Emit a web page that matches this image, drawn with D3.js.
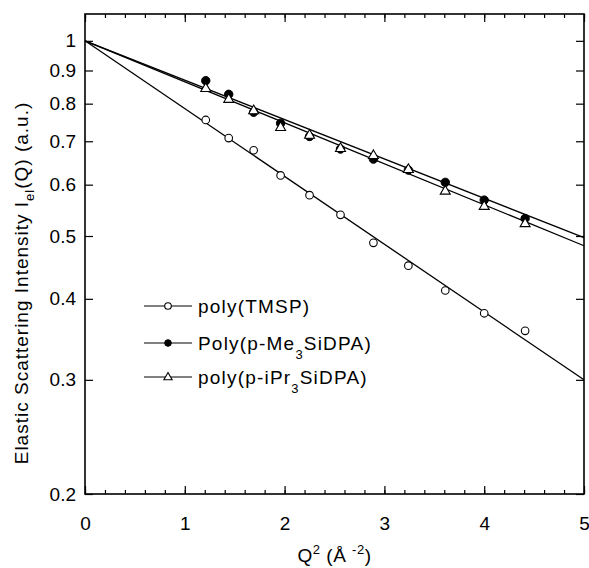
<!DOCTYPE html>
<html>
<head>
<meta charset="utf-8">
<script src="https://cdn.jsdelivr.net/npm/d3@7"></script>
<style>
  html, body { margin: 0; padding: 0; background: #fff; }
  text { font-family: "Liberation Sans", Arial, Helvetica, sans-serif; fill: #000; }
</style>
</head>
<body>
<svg id="chart" width="589" height="568"></svg>
<script>
// ---- data ----
const q2 = [1.21, 1.44, 1.69, 1.96, 2.25, 2.56, 2.89, 3.24, 3.61, 4.00, 4.41];
const tmsp = [0.755, 0.708, 0.678, 0.620, 0.578, 0.539, 0.488, 0.450, 0.412, 0.380, 0.357];
const me3  = [0.868, 0.827, 0.776, 0.746, 0.712, 0.681, 0.657, 0.632, 0.605, 0.568, 0.532];
const ipr3 = [0.845, 0.813, 0.781, 0.736, 0.716, 0.683, 0.666, 0.634, 0.587, 0.556, 0.523];
const fitX = [0, 5];
const tmspFit = [1, 0.300];
const me3Fit  = [1, 0.497];
const ipr3Fit = [1, 0.483];
const xTicks = [0, 1, 2, 3, 4, 5];
const xMinorTicks = d3.range(0, 5.001, 0.2);
const yTicks = [0.2, 0.3, 0.4, 0.5, 0.6, 0.7, 0.8, 0.9, 1];
const yTickLabels = ["0.2", "0.3", "0.4", "0.5", "0.6", "0.7", "0.8", "0.9", "1"];

// ---- layout ----
const svg = d3.select("#chart");
const L = 85, R = 584, T = 14, B = 494;
const x = d3.scaleLinear().domain([0, 5]).range([L, R]);
const y = d3.scaleLog().domain([0.2, 1.1]).range([B, T]);

const fontSize = 19;
const majorLen = 8, minorLen = 4;

// axes (ticks inward)
const g = svg.append("g");
// bottom
g.append("g").attr("transform", `translate(0,${B})`)
  .call(d3.axisBottom(x).tickValues(xMinorTicks).tickSize(-minorLen).tickFormat(""))
  .call(s => s.select(".domain").remove());
g.append("g").attr("transform", `translate(0,${B})`)
  .call(d3.axisBottom(x).tickValues(xTicks).tickSize(-majorLen).tickPadding(23).tickFormat(d3.format("d")))
  .call(s => s.select(".domain").remove())
  .call(s => s.selectAll("text").attr("font-size", fontSize).attr("font-family", "Liberation Sans, Arial, sans-serif"));
// top
g.append("g").attr("transform", `translate(0,${T})`)
  .call(d3.axisTop(x).tickValues(xMinorTicks).tickSize(-minorLen).tickFormat(""))
  .call(s => s.select(".domain").remove());
g.append("g").attr("transform", `translate(0,${T})`)
  .call(d3.axisTop(x).tickValues(xTicks).tickSize(-majorLen).tickFormat(""))
  .call(s => s.select(".domain").remove());
// left
g.append("g").attr("transform", `translate(${L},0)`)
  .call(d3.axisLeft(y).tickValues(yTicks).tickSize(-majorLen).tickPadding(9)
    .tickFormat((d, i) => yTickLabels[i]))
  .call(s => s.select(".domain").remove())
  .call(s => s.selectAll("text").attr("font-size", fontSize).attr("font-family", "Liberation Sans, Arial, sans-serif"));
// right
g.append("g").attr("transform", `translate(${R},0)`)
  .call(d3.axisRight(y).tickValues(yTicks).tickSize(-majorLen).tickFormat(""))
  .call(s => s.select(".domain").remove());
g.selectAll(".tick line").attr("stroke", "#000").attr("stroke-width", 1.2);

// frame
svg.append("rect").attr("x", L).attr("y", T).attr("width", R - L).attr("height", B - T)
  .attr("fill", "none").attr("stroke", "#000").attr("stroke-width", 1.6);

// fit lines
const line = d3.line().x(d => x(d[0])).y(d => y(d[1]));
[tmspFit, me3Fit, ipr3Fit].forEach(f => {
  svg.append("path").datum(fitX.map((v, i) => [v, f[i]]))
    .attr("d", line).attr("fill", "none").attr("stroke", "#000").attr("stroke-width", 1.3);
});

// markers
function drawMarker(sel, type, cx, cy, size) {
  if (type === "circle-open") {
    sel.append("circle").attr("cx", cx).attr("cy", cy).attr("r", size)
      .attr("fill", "#fff").attr("stroke", "#000").attr("stroke-width", 1.1);
  } else if (type === "circle-filled") {
    sel.append("circle").attr("cx", cx).attr("cy", cy).attr("r", size)
      .attr("fill", "#000").attr("stroke", "#000").attr("stroke-width", 1);
  } else {
    const s = size * 2.5;
    const h = s * Math.sqrt(3) / 2;
    sel.append("path")
      .attr("d", `M${cx},${cy - h * 0.62}L${cx + s / 2},${cy + h * 0.38}L${cx - s / 2},${cy + h * 0.38}Z`)
      .attr("fill", "#fff").attr("stroke", "#000").attr("stroke-width", 1.1);
  }
}
const pts = svg.append("g");
q2.forEach((q, i) => drawMarker(pts, "circle-filled", x(q), y(me3[i]), 4.2));
q2.forEach((q, i) => drawMarker(pts, "triangle", x(q), y(ipr3[i]), 4));
q2.forEach((q, i) => drawMarker(pts, "circle-open", x(q), y(tmsp[i]), 3.8));

// legend
const legend = [
  { type: "circle-open", parts: [["poly(TMSP)", false]] },
  { type: "circle-filled", parts: [["Poly(p-Me", false], ["3", true], ["SiDPA)", false]] },
  { type: "triangle", parts: [["poly(p-iPr", false], ["3", true], ["SiDPA)", false]] }
];
const legY = [306, 343, 377];
const lg = svg.append("g");
legend.forEach((e, i) => {
  const yy = legY[i];
  lg.append("line").attr("x1", 144).attr("x2", 192).attr("y1", yy).attr("y2", yy)
    .attr("stroke", "#000").attr("stroke-width", 1);
  drawMarker(lg, e.type, 168, yy, 3.3);
  const t = lg.append("text").attr("x", 198).attr("y", yy + 7)
    .attr("font-size", fontSize).attr("letter-spacing", 1.2);
  e.parts.forEach(p => {
    if (p[1]) {
      t.append("tspan").attr("font-size", 13).attr("dy", 9).text(p[0]);
    } else {
      const ts = t.append("tspan").text(p[0]);
      if (t.selectAll("tspan").size() > 1) ts.attr("dy", -9);
    }
  });
});

// x axis title
const xt = svg.append("text").attr("x", x(2.5)).attr("y", 562).attr("text-anchor", "middle")
  .attr("font-size", fontSize).attr("letter-spacing", 0.5);
xt.append("tspan").text("Q");
xt.append("tspan").attr("font-size", 13).attr("dy", -8).text("2");
xt.append("tspan").attr("dy", 8).text(" (Å ");
xt.append("tspan").attr("font-size", 13).attr("dy", -8).text("-2");
xt.append("tspan").attr("dy", 8).text(")");

// y axis title
const yt = svg.append("text").attr("transform", "translate(28,283) rotate(-90)")
  .attr("text-anchor", "middle").attr("font-size", fontSize).attr("letter-spacing", 1.0);
yt.append("tspan").text("Elastic  Scattering  Intensity  I");
yt.append("tspan").attr("font-size", 13).attr("dy", 6).text("el");
yt.append("tspan").attr("dy", -6).text("(Q)  (a.u.)");
</script>
</body>
</html>
